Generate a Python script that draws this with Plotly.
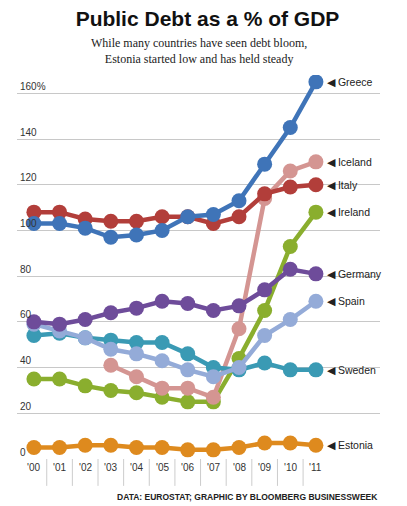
import plotly.graph_objects as go

YEARS = ["'00", "'01", "'02", "'03", "'04", "'05", "'06", "'07", "'08", "'09", "'10", "'11"]
Y_TICKS = [0, 20, 40, 60, 80, 100, 120, 140, 160]
Y_TICK_TEXT = ["0", "20", "40", "60", "80", "100", "120", "140", "160%"]

ESTONIA = [5, 5, 6, 6, 5, 5, 4, 4, 5, 7, 7, 6]
IRELAND = [35, 35, 32, 30, 29, 27, 25, 25, 44, 65, 93, 108]
ICELAND = [None, None, None, 41, 36, 31, 31, 27, 57, 114, 126, 130]
SPAIN = [59, 56, 53, 48, 46, 43, 39, 36, 40, 54, 61, 69]
SWEDEN = [54, 55, 53, 52, 51, 51, 46, 40, 39, 42, 39, 39]
GERMANY = [60, 59, 61, 64, 66, 69, 68, 65, 67, 74, 83, 81]
ITALY = [108, 108, 105, 104, 104, 106, 106, 103, 106, 116, 119, 120]
GREECE = [103, 103, 101, 97, 98, 100, 106, 107, 113, 129, 145, 165]

SERIES = [
    ("Estonia", ESTONIA, "#DE8A1E"),
    ("Ireland", IRELAND, "#8AAE2E"),
    ("Iceland", ICELAND, "#D49592"),
    ("Sweden", SWEDEN, "#3A9AB4"),
    ("Spain", SPAIN, "#94ABD8"),
    ("Germany", GERMANY, "#6E4C9A"),
    ("Italy", ITALY, "#B23E3A"),
    ("Greece", GREECE, "#3F74B8"),
]

FONT = "Liberation Sans"
x = list(range(len(YEARS)))
fig = go.Figure()
for name, vals, color in SERIES:
    fig.add_trace(go.Scatter(
        x=x, y=vals, mode="lines+markers", name=name,
        line=dict(color=color, width=4.5),
        marker=dict(color=color, size=15),
        showlegend=False, connectgaps=False,
    ))
    fig.add_annotation(x=x[-1], y=vals[-1], text="◀ " + name,
                       xanchor="left", xshift=9, showarrow=False,
                       font=dict(family=FONT, size=10.5, color="#222"))

# year labels under the axis
for xi, lab in zip(x, YEARS):
    fig.add_annotation(x=xi, y=0, yref="paper", yshift=-16, text=lab, showarrow=False,
                       font=dict(family=FONT, size=10, color="#333"))

shapes = []
for k in range(len(YEARS) - 1):
    shapes.append(dict(type="line", xref="x", yref="paper", x0=k + 0.5, x1=k + 0.5,
                       y0=0, y1=-0.07, line=dict(color="#cccccc", width=1)))

fig.update_layout(
    width=399, height=498,
    margin=dict(l=9, r=27, t=67, b=47),
    paper_bgcolor="white", plot_bgcolor="white",
    shapes=shapes,
    title=dict(
        text="<b>Public Debt as a % of GDP</b>",
        x=0.5, xanchor="center", y=0.978, yanchor="middle",
        font=dict(family=FONT, size=21, color="#111"),
    ),
    xaxis=dict(
        range=[-0.66, 13.5], showticklabels=False, automargin=False,
        showgrid=False, zeroline=False, ticks="", showline=False,
    ),
    yaxis=dict(
        range=[0, 168], tickvals=Y_TICKS, ticktext=Y_TICK_TEXT, automargin=False,
        ticklabelposition="inside top", gridcolor="#c8c8c8", gridwidth=1.2,
        zeroline=False, showline=False,
        tickfont=dict(family=FONT, size=10, color="#333"),
    ),
)
fig.add_annotation(
    xref="paper", yref="paper", x=0.5, y=1.062, yanchor="middle", showarrow=False,
    text="While many countries have seen debt bloom,<br>Estonia started low and has held steady",
    font=dict(family="Liberation Serif", size=12, color="#222"),
)
fig.add_annotation(
    xref="paper", yref="paper", x=1.0, xanchor="right", y=-0.1, yanchor="middle", showarrow=False,
    text="<b>DATA: EUROSTAT; GRAPHIC BY BLOOMBERG BUSINESSWEEK</b>",
    font=dict(family=FONT, size=8.5, color="#222"),
)
fig.write_html("out.html")
